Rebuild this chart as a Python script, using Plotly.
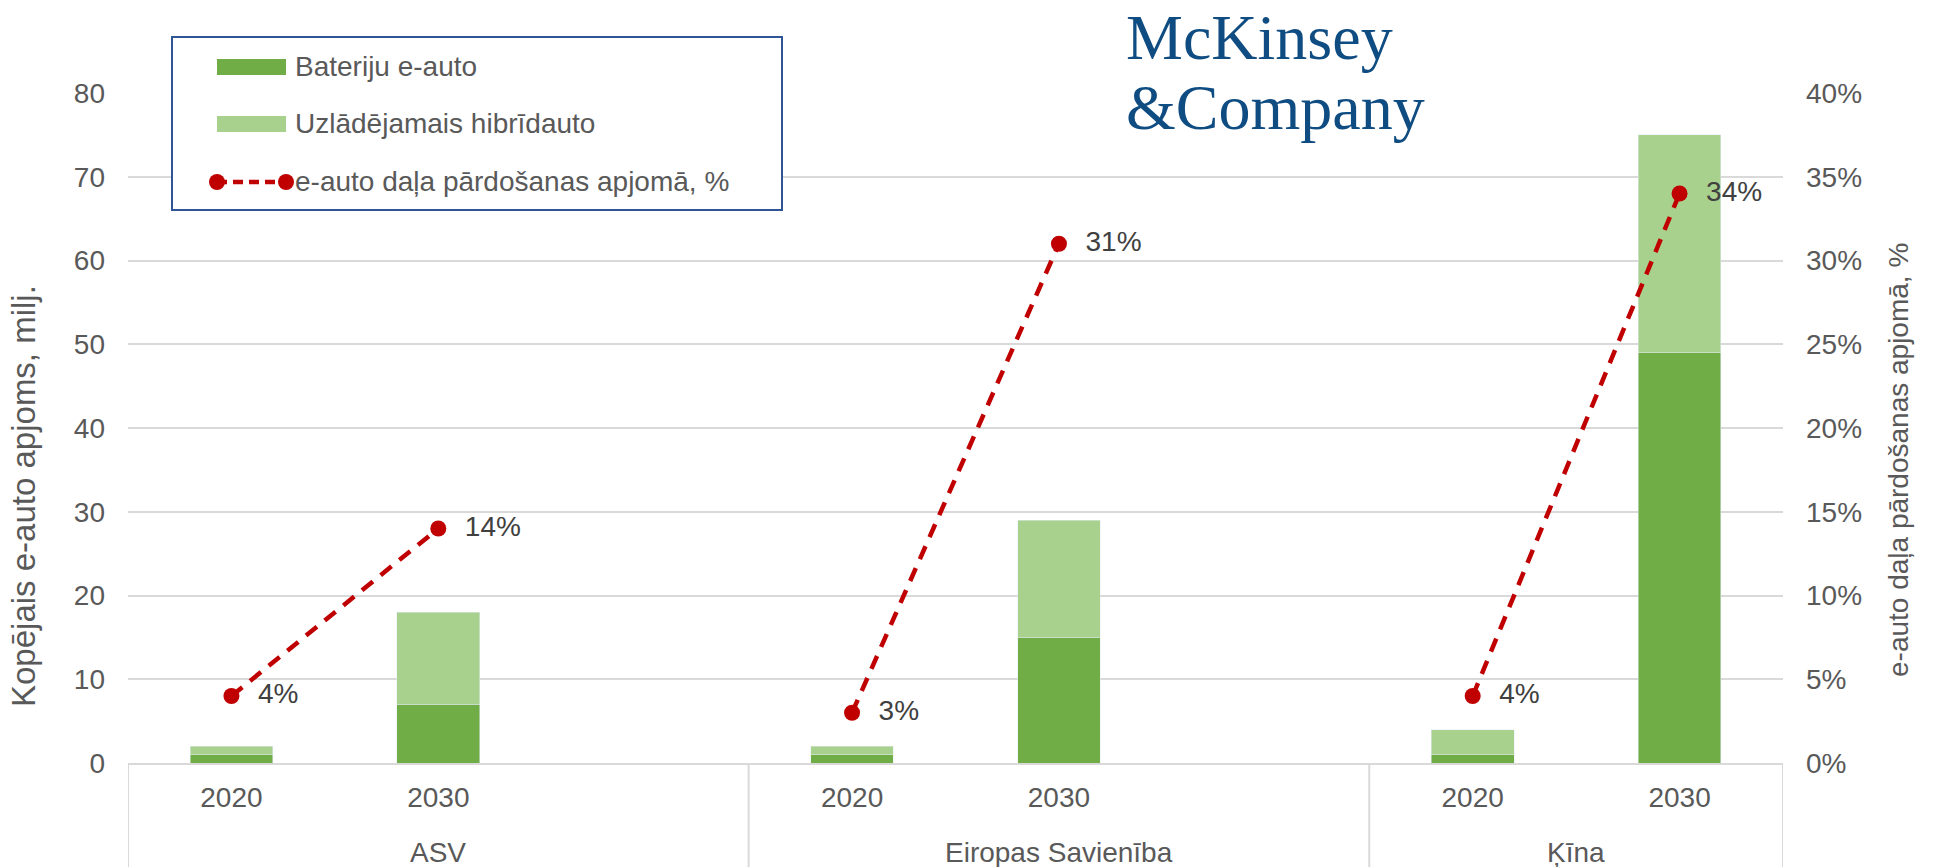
import plotly.graph_objects as go

# ---------------- data ----------------
regions = ["ASV", "Eiropas Savienība", "Ķīna"]
years = ["2020", "2030"]
region_slots = [3, 3, 2]          # category slots per region (incl. empty slot)
bev = [1, 7, 1, 15, 1, 49]        # Bateriju e-auto, milj.
phev = [1, 11, 1, 14, 3, 26]      # Uzlādējamais hibrīdauto, milj.
share = [0.04, 0.14, 0.03, 0.31, 0.04, 0.34]  # e-auto daļa pārdošanas apjomā

name_bev = "Bateriju e-auto"
name_phev = "Uzlādējamais hibrīdauto"
name_share = "e-auto daļa pārdošanas apjomā, %"
ytitle_left = "Kopējais e-auto apjoms, milj."
ytitle_right = "e-auto daļa pārdošanas apjomā, %"

# ---------------- positions on category axis ----------------
starts = []
s = 0
for n in region_slots:
    starts.append(s)
    s += n
total_slots = s
xpos = [starts[r] + j for r in range(len(regions)) for j in range(len(years))]
xlabels = [y for r in regions for y in years]
centers = [starts[r] + (region_slots[r] - 1) / 2 for r in range(len(regions))]
bounds = [st - 0.5 for st in starts] + [total_slots - 0.5]

# line with gaps between regions
lx, ly, lt = [], [], []
for r in range(len(regions)):
    for j in range(len(years)):
        k = r * len(years) + j
        lx.append(xpos[k]); ly.append(share[k]); lt.append("\u00a0\u00a0" + f"{round(share[k]*100)}%")
    if r < len(regions) - 1:
        lx.append(None); ly.append(None); lt.append("")

# ---------------- styling ----------------
W, H = 1933, 867
ML, MR, MT, MB = 128, 150, 93, 104
PW, PH = W - ML - MR, H - MT - MB
FONT = "Liberation Sans, Arial, sans-serif"
GRAY = "#595959"
DARK = "#404040"
C_BEV = "#70AD47"
C_PHEV = "#A9D18E"
C_LINE = "#C00000"
GRID = "#D9D9D9"

def px(x):
    return (x - ML) / PW

def py(y):
    return (H - MB - y) / PH

fig = go.Figure()
fig.add_trace(go.Bar(x=xpos, y=bev, name=name_bev, marker_color=C_BEV, width=0.4,
                     showlegend=False))
fig.add_trace(go.Bar(x=xpos, y=phev, name=name_phev, marker_color=C_PHEV, width=0.4,
                     showlegend=False))
fig.add_trace(go.Scatter(x=lx, y=ly, name=name_share, yaxis="y2", mode="lines+markers+text",
                         line=dict(color=C_LINE, width=4.5, dash="14px,10px"),
                         marker=dict(color=C_LINE, size=16),
                         text=lt, textposition="middle right",
                         textfont=dict(family=FONT, size=28, color=DARK),
                         connectgaps=False, showlegend=False, cliponaxis=False))

shapes = []
annotations = []

# category dividers
for b in bounds:
    shapes.append(dict(type="line", xref="x", yref="paper", x0=b, x1=b, y0=0, y1=py(H),
                       line=dict(color=GRID, width=2), layer="above"))
# region labels
for r, name in enumerate(regions):
    annotations.append(dict(x=centers[r], y=py(852), xref="x", yref="paper",
                            text=name, showarrow=False, xanchor="center", yanchor="middle",
                            font=dict(family=FONT, size=28, color=GRAY)))

# axis titles
annotations.append(dict(x=px(24), y=py(496), xref="paper", yref="paper", text=ytitle_left,
                        textangle=-90, showarrow=False, xanchor="center", yanchor="middle",
                        font=dict(family=FONT, size=33, color=GRAY)))
annotations.append(dict(x=px(1898), y=py(460), xref="paper", yref="paper", text=ytitle_right,
                        textangle=-90, showarrow=False, xanchor="center", yanchor="middle",
                        font=dict(family=FONT, size=28, color=GRAY)))

# manual legend
shapes.append(dict(type="rect", xref="paper", yref="paper", x0=px(172), x1=px(782),
                   y0=py(210), y1=py(37), fillcolor="white",
                   line=dict(color="#2F5597", width=2), layer="above"))
shapes.append(dict(type="rect", xref="paper", yref="paper", x0=px(217), x1=px(286),
                   y0=py(75), y1=py(59), fillcolor=C_BEV, line=dict(width=0), layer="above"))
shapes.append(dict(type="rect", xref="paper", yref="paper", x0=px(217), x1=px(286),
                   y0=py(132), y1=py(116), fillcolor=C_PHEV, line=dict(width=0), layer="above"))
shapes.append(dict(type="line", xref="paper", yref="paper", x0=px(217), x1=px(286),
                   y0=py(182), y1=py(182), line=dict(color=C_LINE, width=4.5, dash="10px,6px"),
                   layer="above"))
for cx in (217, 286):
    shapes.append(dict(type="circle", xref="paper", yref="paper", x0=px(cx - 8), x1=px(cx + 8),
                       y0=py(190), y1=py(174), fillcolor=C_LINE, line=dict(width=0), layer="above"))
for txt, yc in ((name_bev, 66), (name_phev, 123), (name_share, 181)):
    annotations.append(dict(x=px(293), y=py(yc), xref="paper", yref="paper", text=txt,
                            showarrow=False, xanchor="left", yanchor="middle",
                            font=dict(family=FONT, size=28, color=GRAY)))

# logo
shapes.append(dict(type="rect", xref="paper", yref="paper", x0=px(1098), x1=px(1462),
                   y0=py(150), y1=py(5), fillcolor="white", line=dict(width=0), layer="above"))
for txt, yc in (("McKinsey", 37), ("&amp;Company", 108)):
    annotations.append(dict(x=px(1124), y=py(yc), xref="paper", yref="paper", text=txt,
                            showarrow=False, xanchor="left", yanchor="middle",
                            font=dict(family="Liberation Serif, Times New Roman, serif",
                                      size=64, color="#0F4C81")))

fig.update_layout(
    width=W, height=H,
    margin=dict(l=ML, r=MR, t=MT, b=MB, pad=0),
    paper_bgcolor="white", plot_bgcolor="white",
    barmode="stack", showlegend=False,
    xaxis=dict(range=[-0.5, total_slots - 0.5], tickvals=xpos, ticktext=xlabels,
               tickfont=dict(family=FONT, size=28, color=GRAY), ticks="",
               ticklabelstandoff=8, showgrid=False, zeroline=False,
               showline=True, linecolor=GRID, linewidth=2, fixedrange=True),
    yaxis=dict(range=[0, 80], dtick=10, tickfont=dict(family=FONT, size=28, color=GRAY),
               showgrid=True, gridcolor=GRID, gridwidth=2, zeroline=False,
               ticklabelstandoff=22, showline=False),
    yaxis2=dict(range=[0, 0.4], dtick=0.05, tickformat=".0%", overlaying="y", side="right",
                tickfont=dict(family=FONT, size=28, color=GRAY), showgrid=False,
                zeroline=False, ticklabelstandoff=22, showline=False),
    shapes=shapes, annotations=annotations,
)

fig.write_html("out.html", config={"displayModeBar": False},
               post_script="document.body.style.margin='0px';document.body.style.overflow='hidden';")
